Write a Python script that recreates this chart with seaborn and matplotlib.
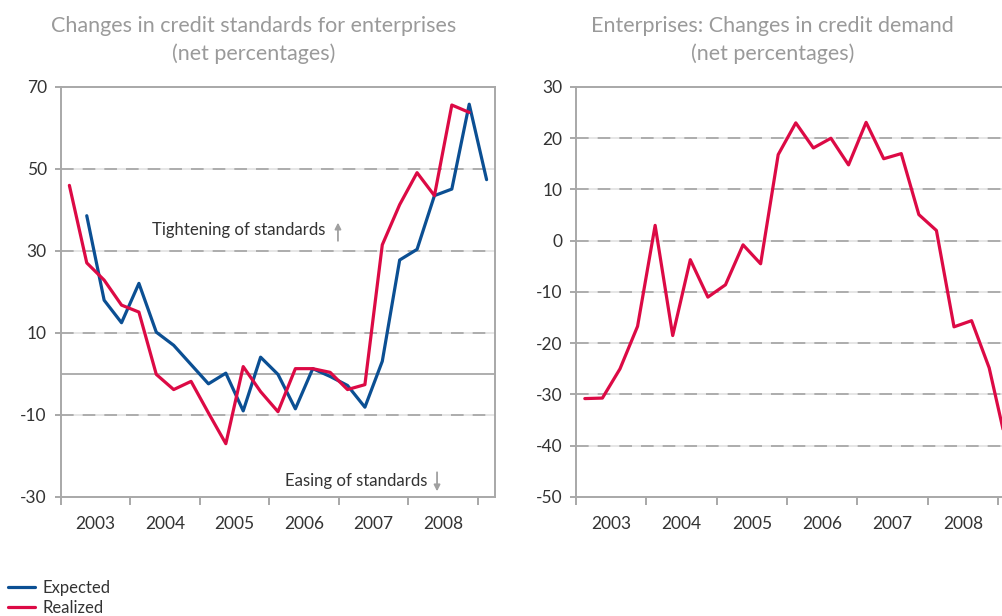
import numpy as np
import pandas as pd
import matplotlib
matplotlib.use("Agg")
import matplotlib.pyplot as plt
import seaborn as sns

# quarterly data, 2003Q1 .. 2009Q1
years = [2003, 2004, 2005, 2006, 2007, 2008]
quarters = [f"{y}Q{q}" for y in range(2003, 2010) for q in range(1, 5)][:25]

# credit standards (left panel)
realized_std = [46.0, 27.1, 22.9, 16.8, 15.1, -0.1, -3.8, -1.8, -9.5, -17.0, 1.8, -4.3,
                -9.2, 1.3, 1.3, 0.4, -3.8, -2.6, 31.5, 41.3, 49.1, 43.5, 65.6, 63.8]
expected_std = [38.6, 18.0, 12.5, 22.1, 10.2, 7.0, 2.3, -2.4, 0.2, -9.0, 4.1, -0.1,
                -8.5, 1.3, -0.6, -2.8, -8.1, 3.1, 27.8, 30.4, 43.5, 45.1, 65.8, 47.4]
# credit demand (right panel)
realized_dem = [-30.8, -30.7, -25.0, -16.7, 3.0, -18.5, -3.7, -11.0, -8.6, -0.8, -4.5, 16.8,
                23.0, 18.1, 20.0, 14.8, 23.1, 16.0, 17.0, 5.1, 2.0, -16.8, -15.6, -24.8, -40.0]

RED = "#dc0a45"
BLUE = "#0b4f93"
GRID = "#a8a8a8"
TXT = "#333333"

sns.set_style("white")
plt.rcParams["font.family"] = ["Lato", "DejaVu Sans"]

qpos = {q: i + 0.5 for i, q in enumerate(quarters)}
df_std = pd.concat([
    pd.DataFrame({"quarter": quarters[1:25], "value": expected_std, "series": "Expected"}),
    pd.DataFrame({"quarter": quarters[0:24], "value": realized_std, "series": "Realized"}),
])
df_std["x"] = df_std["quarter"].map(qpos)
df_dem = pd.DataFrame({"quarter": quarters[:len(realized_dem)], "value": realized_dem})
df_dem["x"] = df_dem["quarter"].map(qpos)

fig = plt.figure(figsize=(10.03, 6.16), dpi=100)
ax1 = fig.add_axes([0.0605, 0.1932, 0.4333, 0.6656])
ax2 = fig.add_axes([0.5743, 0.1932, 0.4382, 0.6656])


def style_axis(ax, ylim, yticks, grid_vals, zero_solid=False):
    ax.set_xlim(0, 25)
    ax.set_ylim(*ylim)
    for g in grid_vals:
        ax.axhline(g, color="#e2e2e2", lw=1.2, zorder=0)
        ax.axhline(g, color=GRID, lw=1.3, dashes=(7, 5), zorder=0)
    if zero_solid:
        ax.axhline(0, color=GRID, lw=1.3, zorder=0)
    for s in ax.spines.values():
        s.set_color(GRID)
        s.set_linewidth(1.4)
    ax.set_yticks(yticks)
    ax.set_yticklabels([str(v) for v in yticks])
    ax.set_xticks(np.arange(0, 25, 4))
    ax.set_xticklabels([])
    ax.set_xticks(np.arange(2, 24, 4), minor=True)
    ax.set_xticklabels([str(y) for y in years], minor=True)
    ax.tick_params(axis="x", which="major", length=6, width=1.4, color=GRID, direction="out", bottom=True)
    ax.tick_params(axis="x", which="minor", length=0, pad=14, labelsize=12.5, labelcolor=TXT)
    ax.tick_params(axis="y", length=4, width=1.4, color=GRID, direction="out", left=True,
                   pad=6, labelsize=12.5, labelcolor=TXT)
    ax.set_xlabel("")
    ax.set_ylabel("")


sns.lineplot(data=df_std, x="x", y="value", hue="series", hue_order=["Expected", "Realized"],
             palette={"Expected": BLUE, "Realized": RED}, lw=2.3, ax=ax1, legend=False, sort=False)
style_axis(ax1, (-30, 70), [70, 50, 30, 10, -10, -30], [50, 30, 10, -10], zero_solid=True)

sns.lineplot(data=df_dem, x="x", y="value", color=RED, lw=2.3, ax=ax2, sort=False)
style_axis(ax2, (-50, 30), list(range(30, -60, -10)), [20, 10, 0, -10, -20, -30, -40])
ax2.spines["right"].set_visible(False)

# annotations on the left panel
ax1.text(5.25, 35.2, "Tightening of standards", ha="left", va="center", fontsize=12.1, color=TXT)
ax1.annotate("", xy=(15.95, 37.6), xytext=(15.95, 31.8),
             arrowprops=dict(arrowstyle="-|>", color="#a0a0a0", lw=1.3, mutation_scale=9))
ax1.text(12.9, -26.1, "Easing of standards", ha="left", va="center", fontsize=12.1, color=TXT)
ax1.annotate("", xy=(21.65, -29.3), xytext=(21.65, -23.3),
             arrowprops=dict(arrowstyle="-|>", color="#a0a0a0", lw=1.3, mutation_scale=9))

fig.text(0.2527, 0.935, "Changes in credit standards for enterprises\n(net percentages)",
         ha="center", va="center", fontsize=15.5, color="#9a9a9a", linespacing=1.5)
fig.text(0.770, 0.935, "Enterprises: Changes in credit demand\n(net percentages)",
         ha="center", va="center", fontsize=15.5, color="#9a9a9a", linespacing=1.5)

handles = [plt.Line2D([], [], color=BLUE, lw=2.3), plt.Line2D([], [], color=RED, lw=2.3)]
fig.legend(handles, ["Expected", "Realized"], loc="upper left", bbox_to_anchor=(0.008, 0.058),
           frameon=False, fontsize=12, handlelength=1.6, handletextpad=0.45,
           labelspacing=0.22, borderpad=0, borderaxespad=0, labelcolor=TXT)

fig.savefig("out.png", dpi=100)
